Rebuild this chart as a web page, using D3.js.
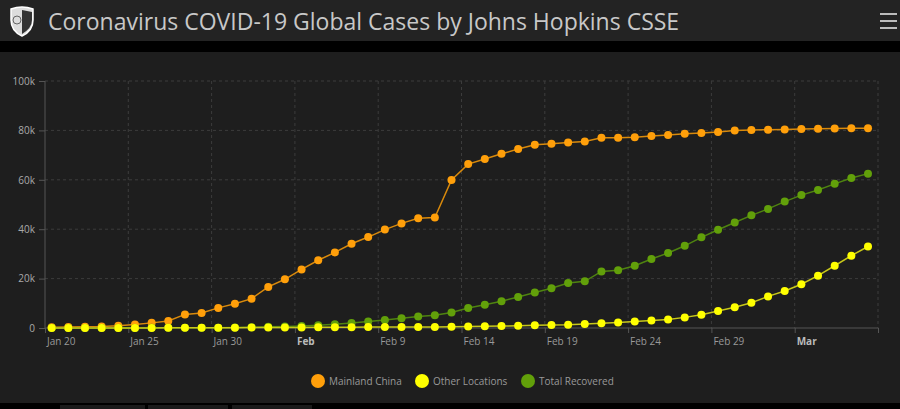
<!DOCTYPE html>
<html><head><meta charset="utf-8">
<script src="https://cdn.jsdelivr.net/npm/d3@7"></script>
<style>
  body { margin:0; background:#000; font-family:"Open Sans","Noto Sans",sans-serif; }
</style></head>
<body><svg id="chart" width="900" height="409"></svg>
<script>
// day index 0..49 (one point per day)
const tickLabels = ["Jan 20","Jan 25","Jan 30","Feb","Feb 9","Feb 14","Feb 19","Feb 24","Feb 29","Mar"];
const boldLabels = ["Feb","Mar"];
const yTicks = [0, 20000, 40000, 60000, 80000, 100000];

const mainland = [300,440,548,643,920,1406,2075,2877,5509,6087,8141,9802,11891,16630,19716,23707,27440,30587,34110,36814,
  39829,42354,44386,44759,59895,66358,68413,70513,72434,74211,74619,75077,75550,77001,77022,77241,77754,78166,78600,78928,
  79356,79932,80136,80261,80386,80537,80690,80770,80823,80860];
const other = [10,10,10,20,30,40,50,60,80,100,130,150,160,180,200,240,270,300,330,360,390,400,420,450,
  500,600,700,800,900,1100,1200,1300,1600,1900,2200,2600,3000,3400,4300,5400,6900,8400,10200,12800,15000,17700,
  21200,25200,29300,33000];
const recovered = [20,25,28,30,36,39,52,61,107,126,143,222,284,472,623,852,1124,1487,2011,2616,3244,3946,4683,5150,
  6295,8058,9395,10865,12583,14352,16121,18177,18890,22886,23394,25227,27905,30384,33277,36711,39782,42716,45602,48228,
  51170,53796,55865,58359,60694,62494];

const series = [
  {name:"Mainland China", values:mainland, dot:"#ff9f0a", line:"#d98a0c"},
  {name:"Other Locations", values:other, dot:"#ffff00", line:"#c8c81a"},
  {name:"Total Recovered", values:recovered, dot:"#62a00a", line:"#4f8410"}
];

const svg = d3.select("#chart");
// header
svg.append("rect").attr("width",900).attr("height",409).attr("fill","#1e1e1e");
svg.append("rect").attr("width",900).attr("height",41).attr("fill","#232323");
svg.append("rect").attr("y",41).attr("width",900).attr("height",11).attr("fill","#000");
svg.append("text").attr("x",48).attr("y",30).attr("fill","#c8c8c8")
  .attr("font-size",23).text("Coronavirus COVID-19 Global Cases by Johns Hopkins CSSE");
// shield logo
const logo = svg.append("g").attr("transform","translate(9,6)");
logo.append("path").attr("d","M2,3 Q13,-1 24,3 L24,14 Q24,25 13,30 Q2,25 2,14 Z")
  .attr("fill","#ddd").attr("stroke","#fff").attr("stroke-width",1.5);
logo.append("path").attr("d","M13,4 L23,6 L23,14 Q23,22 13,28 Z").attr("fill","#333");
logo.append("circle").attr("cx",8).attr("cy",14).attr("r",4).attr("fill","none").attr("stroke","#666");
// hamburger
[13,20,27].forEach(yy => svg.append("rect").attr("x",880).attr("y",yy).attr("width",17).attr("height",2).attr("fill","#bbb"));
// bottom strip
svg.append("rect").attr("y",403).attr("width",900).attr("height",6).attr("fill","#000");
[[60,55],[65,80],[148,80],[232,80]].forEach(([bx,w]) => svg.append("rect").attr("x",bx).attr("y",405).attr("width",w).attr("height",4).attr("fill","#1a1a1a"));

const mLeft = 45, mRight = 878, mTop = 81, mBottom = 328;
const x = d3.scaleLinear().domain([-0.4, 49.6]).range([mLeft, mRight]);
const y = d3.scaleLinear().domain([0, 100000]).range([mBottom, mTop]);

const grid = svg.append("g");
yTicks.slice(1).forEach(t => grid.append("line").attr("x1",mLeft).attr("x2",mRight)
  .attr("y1",y(t)).attr("y2",y(t)).attr("stroke","#3c3c3c").attr("stroke-dasharray","3,3"));
const xTickVals = d3.range(tickLabels.length + 1).map(i => -0.4 + 5*i);
xTickVals.slice(1).forEach(t => grid.append("line").attr("x1",x(t)).attr("x2",x(t))
  .attr("y1",mTop).attr("y2",mBottom).attr("stroke","#3c3c3c").attr("stroke-dasharray","3,3"));

// y axis
const yAxis = svg.append("g").attr("transform",`translate(${mLeft},0)`)
  .call(d3.axisLeft(y).tickValues(yTicks).tickSize(6).tickPadding(4)
    .tickFormat(d => d === 0 ? "0" : d3.format("~s")(d)));
yAxis.select(".domain").attr("stroke","#555").attr("d",`M0,${mTop}V${mBottom}`);
yAxis.selectAll(".tick line").attr("stroke","#555");
yAxis.selectAll("text").attr("fill","#aaa").attr("font-size",10).attr("font-family","Open Sans");

// x axis
const xAxis = svg.append("g").attr("transform",`translate(0,${mBottom})`)
  .call(d3.axisBottom(x).tickValues(xTickVals).tickSize(5).tickFormat(""));
xAxis.select(".domain").attr("stroke","#555").attr("d",`M${mLeft},0H${mRight}`);
xAxis.selectAll(".tick line").attr("stroke","#555");
svg.append("g").selectAll("text").data(tickLabels).join("text")
  .attr("x",(d,i) => x(xTickVals[i]) + 2).attr("y",mBottom + 17)
  .attr("fill",d => boldLabels.includes(d) ? "#bbb" : "#999")
  .attr("font-weight",d => boldLabels.includes(d) ? "bold" : "normal")
  .attr("font-size",10).text(d => d);

// series
const line = d3.line().x((d,i) => x(i)).y(d => y(d));
const drawOrder = [series[0], series[2], series[1]];
drawOrder.forEach(s => {
  svg.append("path").datum(s.values).attr("d",line).attr("fill","none")
    .attr("stroke",s.line).attr("stroke-width",1.5);
});
drawOrder.forEach(s => {
  svg.append("g").selectAll("circle").data(s.values).join("circle")
    .attr("cx",(d,i) => x(i)).attr("cy",d => y(d)).attr("r",4).attr("fill",s.dot);
});

// legend
const lx = [318, 422, 528];
const lg = svg.append("g").selectAll("g").data(series).join("g")
  .attr("transform",(d,i) => `translate(${lx[i]},381)`);
lg.append("circle").attr("r",7).attr("fill",d => d.dot);
lg.append("text").attr("x",11).attr("y",3.5).attr("fill","#999").attr("font-size",10).text(d => d.name);
</script></body></html>
